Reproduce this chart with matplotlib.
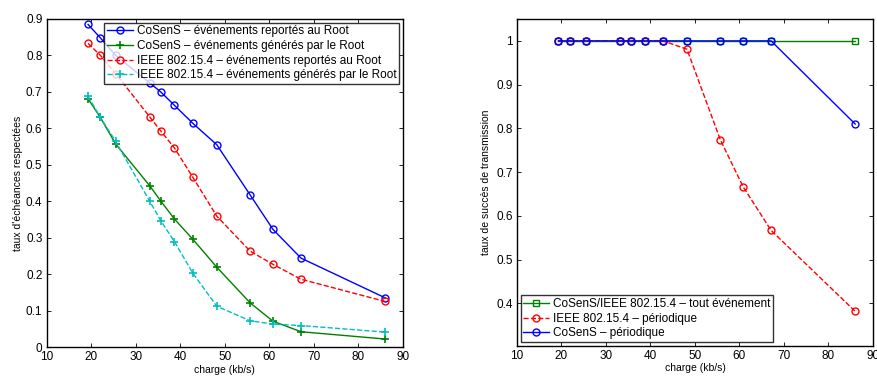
import matplotlib
matplotlib.use("Agg")
import matplotlib.pyplot as plt

plt.rcParams['font.family'] = ['Liberation Sans', 'DejaVu Sans']
plt.rcParams['font.size'] = 8.5

# charge (kb/s)
charge = [19.3, 22.0, 25.5, 33.1, 35.6, 38.7, 42.8, 48.2, 55.7, 60.8, 67.1, 86.0]

# left panel: taux d'echeances respectees
cosens_rep = [0.885, 0.849, 0.800, 0.725, 0.700, 0.663, 0.614, 0.555, 0.417, 0.323, 0.244, 0.135]
cosens_gen = [0.681, 0.631, 0.557, 0.443, 0.401, 0.351, 0.296, 0.219, 0.121, 0.071, 0.042, 0.022]
ieee_rep = [0.833, 0.801, 0.750, 0.632, 0.593, 0.546, 0.466, 0.359, 0.263, 0.227, 0.186, 0.125]
ieee_gen = [0.688, 0.631, 0.564, 0.401, 0.347, 0.289, 0.203, 0.112, 0.072, 0.063, 0.059, 0.041]

# right panel: taux de succes de transmission
all_event = [1, 1, 1, 1, 1, 1, 1, 1, 1, 1, 1, 1]
ieee_per = [1, 1, 1, 1, 1, 1, 1, 0.981, 0.774, 0.667, 0.567, 0.382]
cosens_per = [1, 1, 1, 1, 1, 1, 1, 1, 1, 1, 1, 0.810]

fig = plt.figure(figsize=(8.77, 3.76), dpi=100)
ax1 = fig.add_axes([0.0532, 0.077, 0.4063, 0.8725])
ax2 = fig.add_axes([0.5895, 0.080, 0.4059, 0.8695])

ax1.plot(charge, cosens_rep, '-o', color='#0000ff', lw=1, ms=5, mfc='none', mew=1,
         label='CoSenS – événements reportés au Root')
ax1.plot(charge, cosens_gen, '-+', color='#008000', lw=1, ms=6, mew=1.2,
         label='CoSenS – événements générés par le Root')
ax1.plot(charge, ieee_rep, '--o', color='#ff0000', lw=1, ms=5, mfc='none', mew=1,
         label='IEEE 802.15.4 – événements reportés au Root')
ax1.plot(charge, ieee_gen, '--+', color='#00bfbf', lw=1, ms=6, mew=1.2,
         label='IEEE 802.15.4 – événements générés par le Root')
ax1.set_xlim(10, 90)
ax1.set_ylim(0, 0.9)
ax1.set_xticks(range(10, 91, 10))
ax1.set_yticks([i / 10 for i in range(10)])
ax1.set_yticklabels(['0'] + ['%.1f' % (i / 10) for i in range(1, 10)])
ax1.set_xlabel('charge (kb/s)', fontsize=7.5, labelpad=1)
ax1.set_ylabel("taux d'échéances respectées", fontsize=7.5, labelpad=2)
leg1 = ax1.legend(loc='upper right', fontsize=8.5, fancybox=False, edgecolor='black',
                  borderpad=0.25, labelspacing=0.22, handlelength=2.2, handletextpad=0.3,
                  borderaxespad=0.3)
leg1.get_frame().set_linewidth(1)

ax2.plot(charge, all_event, '-s', color='#008000', lw=1, ms=4, mfc='none', mew=1,
         label='CoSenS/IEEE 802.15.4 – tout événement')
ax2.plot(charge, ieee_per, '--o', color='#ff0000', lw=1, ms=5, mfc='none', mew=1,
         label='IEEE 802.15.4 – périodique')
ax2.plot(charge, cosens_per, '-o', color='#0000ff', lw=1, ms=5, mfc='none', mew=1,
         label='CoSenS – périodique')
ax2.set_xlim(10, 90)
ax2.set_ylim(0.303, 1.05)
ax2.set_xticks(range(10, 91, 10))
ax2.set_yticks([0.4, 0.5, 0.6, 0.7, 0.8, 0.9, 1.0])
ax2.set_yticklabels(['0.4', '0.5', '0.6', '0.7', '0.8', '0.9', '1'])
ax2.set_xlabel('charge (kb/s)', fontsize=7.5, labelpad=1)
ax2.set_ylabel('taux de succès de transmission', fontsize=7.5, labelpad=4)
leg2 = ax2.legend(loc='lower left', fontsize=8.5, fancybox=False, edgecolor='black',
                  borderpad=0.25, labelspacing=0.22, handlelength=2.2, handletextpad=0.3,
                  borderaxespad=0.3)
leg2.get_frame().set_linewidth(1)

for ax in (ax1, ax2):
    ax.tick_params(direction='in', top=True, right=True, length=3, width=0.6,
                   labelsize=8.5, pad=3)
    for s in ax.spines.values():
        s.set_linewidth(1)

fig.savefig('out.png', dpi=100)
